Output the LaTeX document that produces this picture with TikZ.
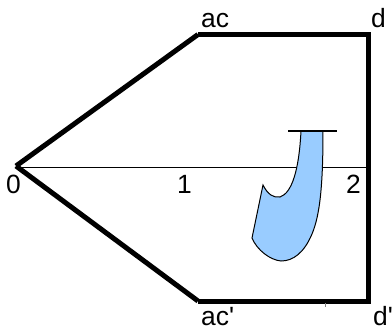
\documentclass[tikz,border=0pt]{standalone}
\usepackage{fontspec}
\setmainfont{Liberation Sans}
\usepackage{tikz}
\usetikzlibrary{positioning,calc}
\definecolor{hookblue}{HTML}{99CCFF}

\begin{document}
\begin{tikzpicture}[x=1bp, y=-1bp,
    thickline/.style={line width=5bp},
    lbl/.style={font=\fontsize{26.5}{30}\selectfont, inner sep=0pt, anchor=base west}]
    \useasboundingbox (0,0) rectangle (392,331);
    % corners of the outline
    \coordinate (apex) at (16,166);
    \coordinate (ac) at (198,34.5);
    \coordinate (d) at (368,34.5);
    \coordinate (dd) at (368,301);
    \coordinate (acc) at (198,301);
    \coordinate (axisend) at (368,167.5);
    % thin axis
    \draw[line width=1.5bp] (apex |- axisend) -- (axisend);
    % thick outline
    \draw[thickline] (ac) -- (apex);
    \draw[thickline] (apex) -- (acc);
    \draw[thickline, line join=miter] (ac) -- (d) -- (dd) -- (acc);
    \draw[gray, line width=0.8bp] (325,303) -- (325,307);
    % the hook
    \draw[fill=hookblue, line width=1bp]
      (301,131) -- (323,131)
      .. controls (323,185) and (320,215) .. (312,234)
      .. controls (304,253) and (293,261) .. (281,261)
      .. controls (270,260) and (257,250) .. (252,238)
      -- (263,185)
      .. controls (268,195) and (274,198) .. (280,197)
      .. controls (292,193) and (299,170) .. (301,131) -- cycle;
    \draw[line width=2.5bp] (288,131) -- (337,131);
    % labels
    \node[lbl] (lac) at (201,27) {ac};
    \node[lbl] (ld) at (371,27) {d};
    \node[lbl] (lacc) at (201,325) {ac\textquotesingle};
    \node[lbl] (ldd) at (373,325) {d\textquotesingle};
    \node[lbl] (l0) at (6,193) {0};
    \node[lbl] (l1) at (177,193) {1};
    \node[lbl] (l2) at (346,193) {2};
\end{tikzpicture}
\end{document}
